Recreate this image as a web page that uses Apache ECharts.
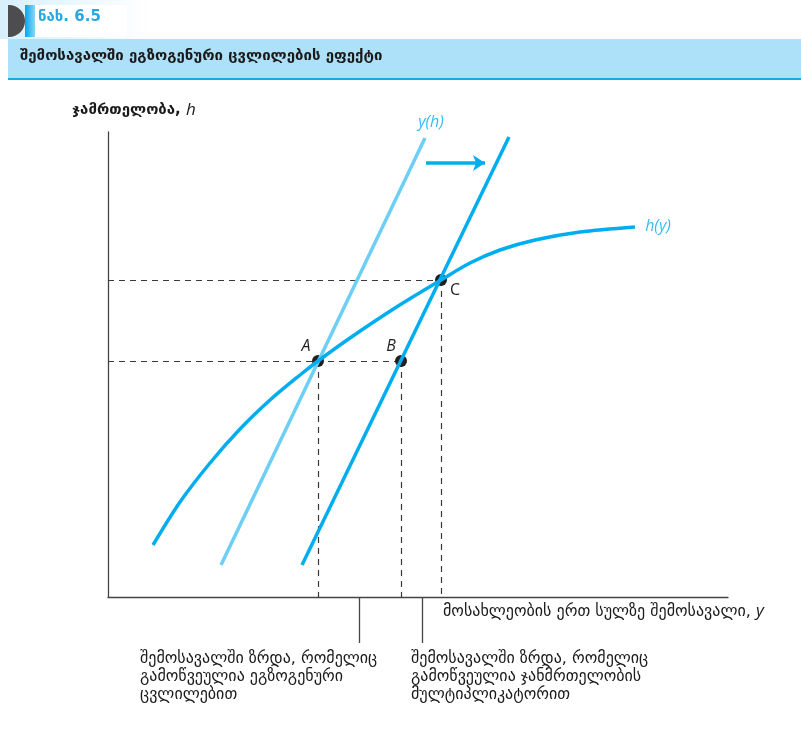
<!DOCTYPE html>
<html>
<head>
<meta charset="utf-8">
<title>ნახ. 6.5</title>
<script src="https://cdn.jsdelivr.net/npm/echarts@6/dist/echarts.min.js"></script>
<style>
  html, body { margin: 0; padding: 0; background: #fff; }
  #chart { width: 801px; height: 731px; }
</style>
</head>
<body>
<div id="chart"></div>
<script>
// data units: x = income per person, y = health (arbitrary units, axis 0..620 / 0..465)
var healthCurve = [[45,52],[72,95],[102,134],[132,168],[162,197],[192,222],[210,236],[242,259],[287,289],[333,317],[362,334],[392,347],[427,357],[472,365],[527,370]];
var incomeLineOld = [[113,32],[317,459]];
var incomeLineNew = [[194,32],[401,460]];
var shiftArrow = [[318,434],[377,434]];
var pointNames = ['A', 'B', 'C'];
var pointValues = [[210,236],[293,236],[333,317]];
var pointLabelOffsets = [[-12,-15],[-10,-15],[14,10]];
var curveNames = ['y(h)', 'h(y)'];
var curveLabelPos = [[323,475],[550,371]];
var tickMarks = [251, 314];   // the two solid markers under the x axis

var blue = '#00aeef', lightBlue = '#6dcff6';
var geo = '"DejaVu Sans", sans-serif';

var guides = [
    {coords: [[0, pointValues[2][1]], pointValues[2]]},
    {coords: [[0, pointValues[1][1]], pointValues[1]]},
    {coords: [pointValues[0], [pointValues[0][0], 0]]},
    {coords: [pointValues[1], [pointValues[1][0], 0]]},
    {coords: [pointValues[2], [pointValues[2][0], 0]]}
];
var ticks = tickMarks.map(function (x) { return {coords: [[x, 0], [x, -46]]}; });

var chart = echarts.init(document.getElementById('chart'));
var option = {
    animation: false,
    grid: {left: 108, top: 132, width: 620, height: 465},
    xAxis: {
        type: 'value', min: 0, max: 620,
        axisLine: {lineStyle: {color: '#444', width: 1.3}},
        axisTick: {show: false}, axisLabel: {show: false}, splitLine: {show: false}
    },
    yAxis: {
        type: 'value', min: 0, max: 465,
        axisLine: {show: true, lineStyle: {color: '#444', width: 1.3}},
        axisTick: {show: false}, axisLabel: {show: false}, splitLine: {show: false}
    },
    series: [
        {
            type: 'lines', coordinateSystem: 'cartesian2d', clip: false, silent: true,
            lineStyle: {color: '#3a3a3a', width: 1.2, type: [6, 5], opacity: 1},
            data: guides
        },
        {
            type: 'lines', coordinateSystem: 'cartesian2d', clip: false, silent: true,
            lineStyle: {color: '#444', width: 1.3, opacity: 1},
            data: ticks
        },
        {
            type: 'line', data: incomeLineOld, showSymbol: false, clip: false,
            lineStyle: {color: lightBlue, width: 3.5}
        },
        {
            type: 'line', data: healthCurve, smooth: 0.3, showSymbol: false, clip: false,
            lineStyle: {color: blue, width: 3.5}
        },
        {
            type: 'line', data: incomeLineNew, showSymbol: false, clip: false,
            lineStyle: {color: blue, width: 3.5}
        },
        {
            type: 'lines', coordinateSystem: 'cartesian2d', clip: false, silent: true,
            symbol: ['none', 'arrow'], symbolSize: [10, 12],
            lineStyle: {color: blue, width: 3.5, opacity: 1},
            data: [{coords: shiftArrow}]
        },
        {
            type: 'scatter', clip: false, symbolSize: 12,
            itemStyle: {color: '#231f20', opacity: 1},
            data: pointValues.map(function (v, i) {
                return {
                    value: v, name: pointNames[i],
                    label: {
                        show: true, position: 'inside', formatter: '{b}',
                        offset: pointLabelOffsets[i],
                        color: '#231f20', fontSize: 16,
                        fontStyle: i < 2 ? 'italic' : 'normal',
                        fontFamily: '"Open Sans", sans-serif'
                    }
                };
            })
        },
        {
            type: 'scatter', clip: false, symbolSize: 0, silent: true,
            data: curveLabelPos.map(function (v, i) {
                return {
                    value: v, name: curveNames[i],
                    label: {
                        show: true, position: 'inside', formatter: '{b}',
                        color: blue, fontSize: 16, fontStyle: 'italic',
                        fontFamily: '"Open Sans", sans-serif'
                    }
                };
            })
        }
    ],
    graphic: [
        // header tab
        {type: 'rect', shape: {x: 0, y: 0, width: 150, height: 39},
         style: {fill: new echarts.graphic.LinearGradient(0, 0, 1, 0, [{offset: 0, color: '#d6f0fc'}, {offset: 1, color: '#ffffff'}])}},
        {type: 'rect', shape: {x: 8, y: 5, width: 17, height: 32, r: [0, 16, 16, 0]}, style: {fill: '#4d4d4f'}},
        {type: 'rect', shape: {x: 25, y: 5, width: 10, height: 32},
         style: {fill: new echarts.graphic.LinearGradient(0, 0, 1, 0, [{offset: 0, color: '#00a8e8'}, {offset: 1, color: '#8ad6f6'}])}},
        {type: 'rect', shape: {x: 35, y: 5, width: 92, height: 32}, style: {fill: '#ffffff'}},
        {type: 'text', left: 38, top: 10,
         style: {text: 'ნახ. 6.5', fill: '#29a8e0', font: 'bold 15px ' + geo}},
        // title bar
        {type: 'rect', shape: {x: 8, y: 39, width: 793, height: 39}, style: {fill: '#ade1fa'}},
        {type: 'rect', shape: {x: 8, y: 78, width: 793, height: 2}, style: {fill: '#1ea8e0'}},
        {type: 'text', left: 20, top: 49,
         style: {text: 'შემოსავალში ეგზოგენური ცვლილების ეფექტი', fill: '#1a1a1a', font: 'bold 15px ' + geo}},
        // axis names
        {type: 'text', left: 72, top: 102,
         style: {
             text: '{g|ჯამრთელობა, }{i|h}',
             rich: {
                 g: {fill: '#1a1a1a', font: 'bold 15px ' + geo},
                 i: {fill: '#1a1a1a', font: 'italic 17px "Open Sans", sans-serif'}
             }
         }},
        {type: 'text', left: 443, top: 603,
         style: {
             text: '{g|მოსახლეობის ერთ სულზე შემოსავალი, }{i|y}',
             rich: {
                 g: {fill: '#1a1a1a', font: '16px ' + geo},
                 i: {fill: '#1a1a1a', font: 'italic 17px "Open Sans", sans-serif'}
             }
         }},
        // annotations
        {type: 'text', left: 140, top: 650,
         style: {text: 'შემოსავალში ზრდა, რომელიც\nგამოწვეულია ეგზოგენური\nცვლილებით',
                 fill: '#1a1a1a', font: '16px ' + geo, lineHeight: 18}},
        {type: 'text', left: 411, top: 650,
         style: {text: 'შემოსავალში ზრდა, რომელიც\nგამოწვეულია ჯანმრთელობის\nმულტიპლიკატორით',
                 fill: '#1a1a1a', font: '16px ' + geo, lineHeight: 18}}
    ]
};
chart.setOption(option);
</script>
</body>
</html>
